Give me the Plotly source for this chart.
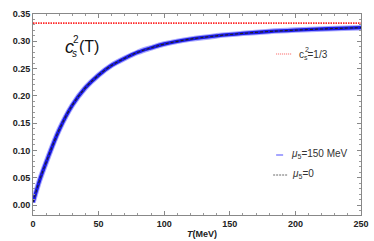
import plotly.graph_objects as go

T = [0, 5, 10, 20, 30, 40, 50, 60, 70, 80, 90, 100, 120, 140, 160, 180, 200, 225, 250]
cs2_mu150 = [0.005, 0.045, 0.078, 0.138, 0.183, 0.215, 0.238, 0.256, 0.269, 0.280, 0.288, 0.295, 0.304, 0.310, 0.3145, 0.318, 0.3205, 0.323, 0.325]
cs2_mu0 = [0.005, 0.045, 0.078, 0.138, 0.183, 0.215, 0.238, 0.256, 0.269, 0.280, 0.288, 0.295, 0.304, 0.310, 0.3145, 0.318, 0.3205, 0.323, 0.325]
T_line = [0, 250]
cs2_conf = [1/3, 1/3]

x_ticks = [0, 50, 100, 150, 200, 250]
y_ticks = [0.00, 0.05, 0.10, 0.15, 0.20, 0.25, 0.30, 0.35]

fig = go.Figure()
fig.add_trace(go.Scatter(x=T_line, y=cs2_conf, mode="lines",
                         line=dict(color="rgb(255,40,40)", width=1.6, dash="1.5px,1px"),
                         showlegend=False, hoverinfo="skip"))
fig.add_trace(go.Scatter(x=T, y=cs2_mu150, mode="lines", line_shape="spline",
                         line=dict(color="rgba(60,60,255,0.45)", width=5.5),
                         showlegend=False, hoverinfo="skip"))
fig.add_trace(go.Scatter(x=T, y=cs2_mu150, mode="lines", line_shape="spline",
                         line=dict(color="#1a1ae6", width=3.4),
                         showlegend=False))
fig.add_trace(go.Scatter(x=T, y=cs2_mu0, mode="lines", line_shape="spline",
                         line=dict(color="#222222", width=1.1, dash="3px,2px"),
                         showlegend=False))

L, R, TOP, BOT = 32.5, 361.0, 14.0, 215.0
def px(x):
    return (x - L) / (R - L)
def py(y):
    return (BOT - y) / (BOT - TOP)

shapes = [
    dict(type="line", xref="paper", yref="paper", x0=px(276), x1=px(292), y0=py(54), y1=py(54),
         line=dict(color="rgb(250,90,90)", width=1.2, dash="1px,1px")),
    dict(type="line", xref="paper", yref="paper", x0=px(276), x1=px(283), y0=py(155), y1=py(155),
         line=dict(color="#6a6aff", width=1.2)),
    dict(type="line", xref="paper", yref="paper", x0=px(273), x1=px(287), y0=py(175), y1=py(175),
         line=dict(color="#444", width=0.8, dash="2px,1px")),
]

lf = dict(family="Liberation Sans, Arial", size=10, color="#333")
annotations = [
    dict(xref="paper", yref="paper", x=px(297), y=py(55), xanchor="left", yanchor="middle",
         text="c<sub>s</sub>=1/3", showarrow=False, font=lf),
    dict(xref="paper", yref="paper", x=px(303), y=py(50), xanchor="left", yanchor="middle",
         text="2", showarrow=False, font=dict(family="Liberation Sans, Arial", size=7, color="#333")),
    dict(xref="paper", yref="paper", x=px(289), y=py(154), xanchor="left", yanchor="middle",
         text="<i>μ</i><sub>5</sub>=150 MeV", showarrow=False, font=lf),
    dict(xref="paper", yref="paper", x=px(290), y=py(174), xanchor="left", yanchor="middle",
         text="<i>μ</i><sub>5</sub>=0", showarrow=False, font=lf),
    dict(xref="paper", yref="paper", x=px(63), y=py(47), xanchor="left", yanchor="middle",
         text="<i>c</i>", showarrow=False, font=dict(family="Liberation Sans, Arial", size=18, color="#111")),
    dict(xref="paper", yref="paper", x=px(71), y=py(40), xanchor="left", yanchor="middle",
         text="2", showarrow=False, font=dict(family="Liberation Sans, Arial", size=10, color="#111")),
    dict(xref="paper", yref="paper", x=px(70), y=py(53), xanchor="left", yanchor="middle",
         text="<i>s</i>", showarrow=False, font=dict(family="Liberation Sans, Arial", size=10, color="#111")),
    dict(xref="paper", yref="paper", x=px(77), y=py(46), xanchor="left", yanchor="middle",
         text="(T)", showarrow=False, font=dict(family="Liberation Sans, Arial", size=16, color="#111")),
    dict(xref="paper", yref="paper", x=px(202), y=py(234), xanchor="center", yanchor="middle",
         text="<b><i>T</i>(MeV)</b>", showarrow=False,
         font=dict(family="Liberation Sans, Arial", size=9, color="#222")),
]

tf = dict(family="Liberation Sans, Arial", size=9, color="#222", weight="bold")
axis_common = dict(showline=True, linecolor="#888", linewidth=1, mirror="allticks",
                   ticks="inside", ticklen=4, tickcolor="#888", showgrid=False, zeroline=False,
                   tickfont=tf, automargin=False)

fig.update_layout(
    width=374, height=241,
    margin=dict(l=L, r=374 - R, t=TOP, b=241 - BOT, autoexpand=False),
    paper_bgcolor="white", plot_bgcolor="white",
    shapes=shapes, annotations=annotations, showlegend=False,
    xaxis=dict(range=[0, 250], tickvals=x_ticks, ticktext=[str(v) for v in x_ticks],
               minor=dict(ticks="inside", ticklen=2, tickcolor="#999", dtick=10, showgrid=False),
               **axis_common),
    yaxis=dict(range=[-0.0183, 0.35], tickvals=y_ticks, ticktext=[f"{v:.2f}" for v in y_ticks],
               minor=dict(ticks="inside", ticklen=2, tickcolor="#999", dtick=0.01, tick0=0, showgrid=False),
               **axis_common),
)

fig.write_html("out.html", config={"displayModeBar": False},
               post_script="document.body.style.margin='0';document.body.style.overflow='hidden';")
